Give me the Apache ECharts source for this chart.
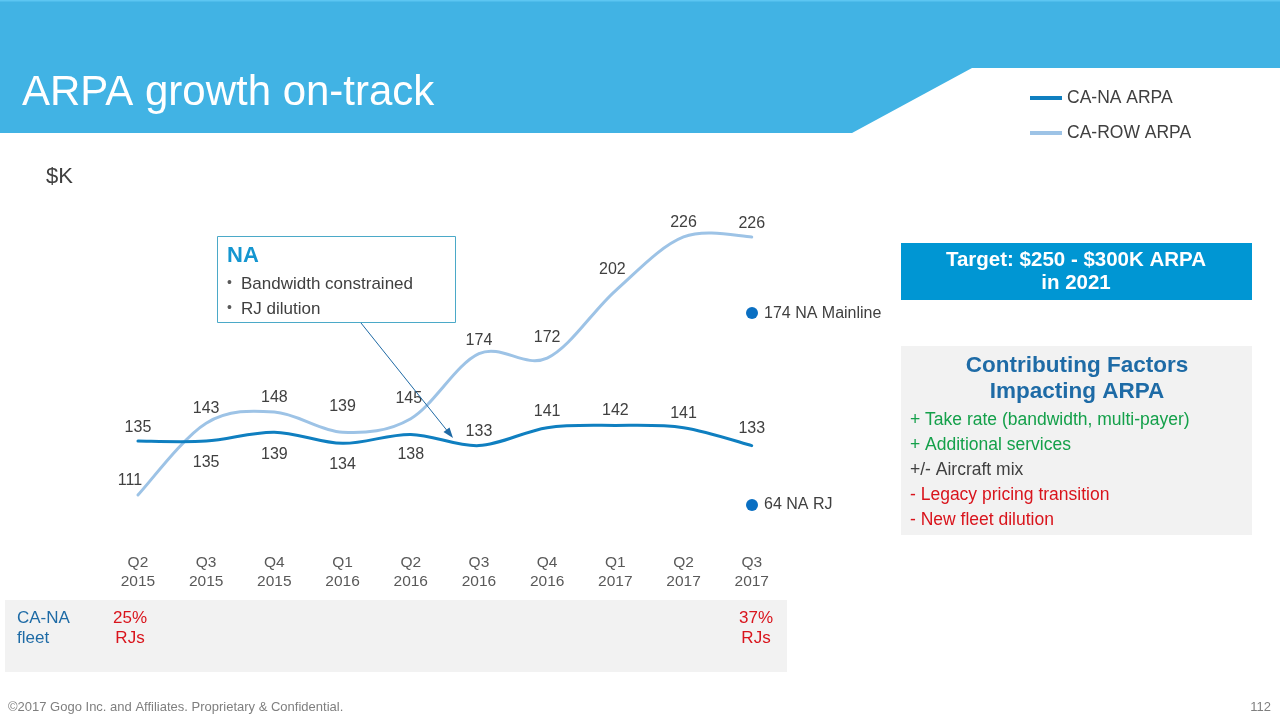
<!DOCTYPE html>
<html>
<head>
<meta charset="utf-8">
<script src="https://cdn.jsdelivr.net/npm/echarts@6/dist/echarts.min.js"></script>
<style>
html,body{margin:0;padding:0;background:#fff;}
#c{width:1280px;height:720px;}
</style>
</head>
<body>
<div id="c"></div>
<script>
// ---- data ----
const categories = ['Q2\n2015','Q3\n2015','Q4\n2015','Q1\n2016','Q2\n2016','Q3\n2016','Q4\n2016','Q1\n2017','Q2\n2017','Q3\n2017'];
const naArpa  = [135,135,139,134,138,133,141,142,141,133];
const rowArpa = [111,143,148,139,145,174,172,202,226,226];
const seriesNames = ['CA-NA ARPA','CA-ROW ARPA'];
const factors = [
  ['+ Take rate (bandwidth, multi-payer)','pos'],
  ['+ Additional services','pos'],
  ['+/- Aircraft mix','mix'],
  ['- Legacy pricing transition','neg'],
  ['- New fleet dilution','neg']
];

// ---- layout / style (not data) ----
const naLabelPos  = ['top','bottom','bottom','bottom','bottom','top','top','top','top','top'];
const naLabelDist = [5,13,14,13,12,6,8,6,6,9];
const rowLabelDist = [6,6,6,17,12,5,12,13,6,5];
const rowLabelDx   = [-8,0,0,0,-2,0,0,-3,0,0];

const FONT = '"Liberation Sans", Arial, sans-serif';
const C_NA = '#0F7FC0', C_ROW = '#9DC3E6', TXT = '#404040';
const factorColor = {pos:'#14A04A', mix:'#404040', neg:'#D9141C'};

const naData = naArpa.map((v,i)=>({value:v,label:{position:naLabelPos[i],distance:naLabelDist[i]}}));
const rowData = rowArpa.map((v,i)=>({value:v,label:{position:'top',distance:rowLabelDist[i],offset:[rowLabelDx[i],0]}}));

// smooth curve (cardinal / Catmull-Rom) through the library's own coordinates
function curveSeries(values, color, z){
  return {
    type:'custom', z:z, silent:true,
    data: values.map((v,i)=>[i,v]),
    encode:{x:0,y:1},
    renderItem:function(params, api){
      if (params.dataIndex !== 0) return null;
      const p = values.map((v,i)=>api.coord([i,v]));
      const n = p.length;
      let d = 'M' + p[0][0] + ' ' + p[0][1];
      for (let i=0;i<n-1;i++){
        const p0 = p[Math.max(i-1,0)], p1 = p[i], p2 = p[i+1], p3 = p[Math.min(i+2,n-1)];
        const c1x = p1[0] + (p2[0]-p0[0])/6, c1y = p1[1] + (p2[1]-p0[1])/6;
        const c2x = p2[0] - (p3[0]-p1[0])/6, c2y = p2[1] - (p3[1]-p1[1])/6;
        d += ' C' + c1x + ' ' + c1y + ' ' + c2x + ' ' + c2y + ' ' + p2[0] + ' ' + p2[1];
      }
      return {type:'path', shape:{pathData:d}, style:{fill:'none', stroke:color, lineWidth:3, lineCap:'round', lineJoin:'round'}};
    }
  };
}

const graphic = [
  {type:'polygon', z:0, shape:{points:[[0,0],[1280,0],[1280,68],[972,68],[852,133],[0,133]]}, style:{fill:'#41B3E4'}},
  {type:'rect', z:1, shape:{x:0,y:0,width:1280,height:1.5}, style:{fill:'#5CC6F2'}},
  {type:'text', z:2, x:22, y:93, style:{text:'ARPA growth on-track', fill:'#fff', font:'42px '+FONT, verticalAlign:'middle'}},
  {type:'text', z:2, x:46, y:177, style:{text:'$K', fill:TXT, font:'22px '+FONT, verticalAlign:'middle'}},
  // target box
  {type:'rect', z:2, shape:{x:901,y:243,width:351,height:57}, style:{fill:'#0096D3'}},
  {type:'text', z:3, x:1076, y:260, style:{text:'Target: $250 - $300K ARPA', fill:'#fff', font:'bold 20.5px '+FONT, align:'center', verticalAlign:'middle'}},
  {type:'text', z:3, x:1076, y:283, style:{text:'in 2021', fill:'#fff', font:'bold 20.5px '+FONT, align:'center', verticalAlign:'middle'}},
  // contributing factors box
  {type:'rect', z:2, shape:{x:901,y:346,width:351,height:189}, style:{fill:'#F2F2F2'}},
  {type:'text', z:3, x:1077, y:366, style:{text:'Contributing Factors', fill:'#1E6BA6', font:'bold 22.5px '+FONT, align:'center', verticalAlign:'middle'}},
  {type:'text', z:3, x:1077, y:392, style:{text:'Impacting ARPA', fill:'#1E6BA6', font:'bold 22.5px '+FONT, align:'center', verticalAlign:'middle'}},
  // annotation box NA
  {type:'rect', z:3, shape:{x:217.5,y:236.5,width:238,height:86}, style:{fill:'#fff', stroke:'#4BA9C8', lineWidth:1}},
  {type:'text', z:4, x:227, y:256, style:{text:'NA', fill:'#1496D0', font:'bold 22px '+FONT, verticalAlign:'middle'}},
  {type:'text', z:4, x:227, y:283, style:{text:'•', fill:'#595959', font:'14px '+FONT, verticalAlign:'middle'}},
  {type:'text', z:4, x:241, y:284, style:{text:'Bandwidth constrained', fill:TXT, font:'17px '+FONT, verticalAlign:'middle'}},
  {type:'text', z:4, x:227, y:308, style:{text:'•', fill:'#595959', font:'14px '+FONT, verticalAlign:'middle'}},
  {type:'text', z:4, x:241, y:309, style:{text:'RJ dilution', fill:TXT, font:'17px '+FONT, verticalAlign:'middle'}},
  // arrow
  {type:'line', z:4, shape:{x1:361,y1:323,x2:449,y2:433}, style:{stroke:'#1F6AA5', lineWidth:1}},
  {type:'polygon', z:4, shape:{points:[[453,438],[443.5,432],[449.5,427.5]]}, style:{fill:'#1F6AA5'}},
  // side markers
  {type:'circle', z:4, shape:{cx:752,cy:313,r:6}, style:{fill:'#0A6FC2'}},
  {type:'text', z:4, x:764, y:314, style:{text:'174 NA Mainline', fill:TXT, font:'16px '+FONT, verticalAlign:'middle'}},
  {type:'circle', z:4, shape:{cx:752,cy:505,r:6}, style:{fill:'#0A6FC2'}},
  {type:'text', z:4, x:764, y:505, style:{text:'64 NA RJ', fill:TXT, font:'16px '+FONT, verticalAlign:'middle'}},
  // bottom fleet box
  {type:'rect', z:1, shape:{x:5,y:600,width:782,height:72}, style:{fill:'#F2F2F2'}},
  {type:'text', z:2, x:17, y:618, style:{text:'CA-NA', fill:'#1E6BA6', font:'17px '+FONT, verticalAlign:'middle'}},
  {type:'text', z:2, x:17, y:638, style:{text:'fleet', fill:'#1E6BA6', font:'17px '+FONT, verticalAlign:'middle'}},
  {type:'text', z:2, x:130, y:618, style:{text:'25%', fill:'#D9141C', font:'17px '+FONT, align:'center', verticalAlign:'middle'}},
  {type:'text', z:2, x:130, y:638, style:{text:'RJs', fill:'#D9141C', font:'17px '+FONT, align:'center', verticalAlign:'middle'}},
  {type:'text', z:2, x:756, y:618, style:{text:'37%', fill:'#D9141C', font:'17px '+FONT, align:'center', verticalAlign:'middle'}},
  {type:'text', z:2, x:756, y:638, style:{text:'RJs', fill:'#D9141C', font:'17px '+FONT, align:'center', verticalAlign:'middle'}},
  // footer
  {type:'text', z:2, x:8, y:707, style:{text:'©2017 Gogo Inc. and Affiliates. Proprietary & Confidential.', fill:'#7F7F7F', font:'13px '+FONT, verticalAlign:'middle'}},
  {type:'text', z:2, x:1271, y:707, style:{text:'112', fill:'#7F7F7F', font:'13px '+FONT, align:'right', verticalAlign:'middle'}}
];
factors.forEach((f,i)=>{
  graphic.push({type:'text', z:3, x:910, y:420+i*25, style:{text:f[0], fill:factorColor[f[1]], font:'17.5px '+FONT, verticalAlign:'middle'}});
});

const chart = echarts.init(document.getElementById('c'), null, {renderer:'canvas'});
chart.setOption({
  animation:false,
  backgroundColor:'#fff',
  textStyle:{fontFamily:FONT},
  legend:{
    orient:'vertical', left:1030, top:88, itemGap:15, padding:0,
    itemWidth:32, itemHeight:4, icon:'rect',
    textStyle:{color:TXT, fontSize:17.5, lineHeight:20, fontFamily:FONT},
    data:[
      {name:seriesNames[0], itemStyle:{color:C_NA, opacity:1}},
      {name:seriesNames[1], itemStyle:{color:C_ROW, opacity:1}}
    ]
  },
  grid:{left:103.85, right:494.15, top:205.5, bottom:177.9},
  xAxis:{
    type:'category', data:categories, boundaryGap:true,
    axisLine:{show:false}, axisTick:{show:false},
    axisLabel:{color:'#595959', fontSize:15.5, lineHeight:19, margin:11, fontFamily:FONT, interval:0}
  },
  yAxis:{type:'value', min:90, max:240, show:false, splitLine:{show:false}},
  graphic:graphic,
  series:[
    {
      name:seriesNames[0], type:'line', data:naData, z:3,
      symbol:'circle', symbolSize:1, showSymbol:true,
      lineStyle:{color:C_NA, width:3, opacity:0}, itemStyle:{color:C_NA},
      label:{show:true, color:TXT, fontSize:16, fontFamily:FONT}
    },
    {
      name:seriesNames[1], type:'line', data:rowData, z:2,
      symbol:'circle', symbolSize:1, showSymbol:true,
      lineStyle:{color:C_ROW, width:3, opacity:0}, itemStyle:{color:C_ROW},
      label:{show:true, color:TXT, fontSize:16, fontFamily:FONT}
    },
    curveSeries(rowArpa, C_ROW, 2),
    curveSeries(naArpa, C_NA, 3)
  ]
});
</script>
</body>
</html>
